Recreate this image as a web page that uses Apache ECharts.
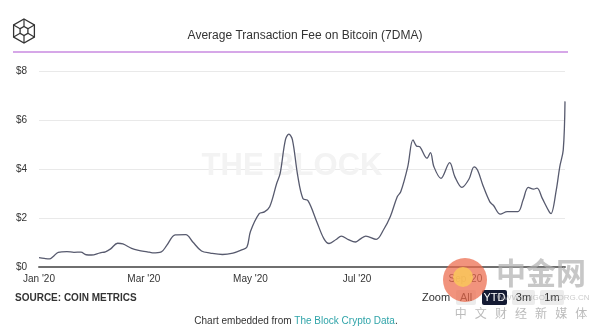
<!DOCTYPE html>
<html><head><meta charset="utf-8">
<script src="https://cdn.jsdelivr.net/npm/echarts@6/dist/echarts.min.js"></script>
<style>html,body{margin:0;padding:0;background:#fff}#c{width:600px;height:330px}</style>
</head><body><div id="c"></div>
<script>
const dates = ['2020-01-01','2020-01-04','2020-01-07','2020-01-09','2020-01-12','2020-01-17','2020-01-21','2020-01-25','2020-01-28','2020-01-31',
'2020-02-05','2020-02-08','2020-02-11','2020-02-15','2020-02-18','2020-02-23','2020-02-27','2020-03-03','2020-03-06','2020-03-11',
'2020-03-14','2020-03-19','2020-03-25','2020-03-29','2020-04-03','2020-04-08','2020-04-15','2020-04-21','2020-04-26','2020-04-29',
'2020-05-01','2020-05-06','2020-05-09','2020-05-12','2020-05-16','2020-05-18','2020-05-21','2020-05-23','2020-05-25','2020-05-28',
'2020-05-31','2020-06-03','2020-06-08','2020-06-12','2020-06-15','2020-06-19','2020-06-22','2020-06-26','2020-06-30','2020-07-03',
'2020-07-06','2020-07-12','2020-07-16','2020-07-20','2020-07-24','2020-07-26','2020-07-30','2020-08-02','2020-08-04','2020-08-06',
'2020-08-10','2020-08-12','2020-08-14','2020-08-18','2020-08-23','2020-08-26','2020-08-30','2020-09-03','2020-09-06','2020-09-08',
'2020-09-11','2020-09-15','2020-09-17','2020-09-21','2020-09-25','2020-10-01','2020-10-04','2020-10-07','2020-10-10','2020-10-12',
'2020-10-15','2020-10-19','2020-10-20','2020-10-23','2020-10-25','2020-10-27','2020-10-28'];
const fees = [0.38,0.35,0.33,0.42,0.60,0.63,0.60,0.61,0.50,0.49,
0.58,0.62,0.74,0.97,0.94,0.76,0.68,0.62,0.58,0.62,
0.87,1.31,1.32,1.02,0.65,0.57,0.51,0.57,0.70,0.82,
1.45,2.18,2.25,2.46,3.41,3.82,5.19,5.42,5.20,3.75,
2.80,2.70,1.84,1.16,0.96,1.12,1.26,1.12,1.02,1.15,
1.26,1.13,1.50,2.05,2.87,3.07,4.09,5.19,4.94,4.90,
4.44,4.67,4.09,3.62,4.26,3.68,3.25,3.58,4.09,3.95,
3.34,2.66,2.52,2.16,2.26,2.26,2.73,3.25,3.18,3.22,
2.80,2.25,2.18,3.14,4.09,4.78,6.76];
const xTicks = ['2020-01-01','2020-03-01','2020-05-01','2020-07-01','2020-09-01'];
const xTickLabels = ["Jan '20","Mar '20","May '20","Jul '20","Sep '20"];
const yTicks = [0,2,4,6,8];

const ts = s => new Date(s + 'T00:00:00Z').getTime();
const tickTs = xTicks.map(ts);
const chart = echarts.init(document.getElementById('c'), null, {renderer:'canvas'});

const cx = 24, cy = 31, R = 12, r = 4.5;
const hex = (rad) => [0,1,2,3,4,5].map(i => { const a = Math.PI/180*(60*i-90); return [cx+rad*Math.cos(a), cy+rad*Math.sin(a)]; });
const outer = hex(R), inner = hex(r);
const logo = [{type:'polygon', shape:{points:outer}, style:{fill:'none', stroke:'#333', lineWidth:1.3}},
  {type:'polygon', shape:{points:inner}, style:{fill:'none', stroke:'#333', lineWidth:1.3}}];
[0,1,2,3,4,5].forEach(i => logo.push({type:'line', shape:{x1:outer[i][0],y1:outer[i][1],x2:inner[i][0],y2:inner[i][1]}, style:{stroke:'#333', lineWidth:1.2}}));

const btn = (x, w, label, active) => [
  {type:'rect', shape:{x:x, y:290, width:w, height:15, r:2}, style:{fill: active ? '#141a33' : '#ececec'}},
  {type:'text', x:x+w/2, y:297.5, style:{text:label, fill: active ? '#fff' : '#333', font:'11px "Liberation Sans", Arial, sans-serif', align:'center', verticalAlign:'middle'}}
];

chart.setOption({
  animation:false,
  grid:{left:39, right:35, top:71, bottom:63},
  title:{text:'Average Transaction Fee on Bitcoin (7DMA)', left:300, textAlign:'center', top:25,
    textStyle:{fontSize:12, fontWeight:'normal', color:'#333', fontFamily:'"Liberation Sans", Arial, sans-serif'}},
  xAxis:{type:'value', min:ts(dates[0]), max:ts(dates[dates.length-1]),
    axisLine:{lineStyle:{color:'#6f6f6f', width:2}},
    axisTick:{show:false},
    splitLine:{show:false},
    axisLabel:{customValues:tickTs, color:'#333', fontSize:10, margin:7, fontFamily:'"Liberation Sans", Arial, sans-serif',
      formatter:(v)=>{ const i = tickTs.indexOf(v); return i>=0 ? xTickLabels[i] : ''; }}},
  yAxis:{type:'value', min:yTicks[0], max:yTicks[yTicks.length-1], interval:2,
    axisLine:{show:false}, axisTick:{show:false},
    splitLine:{lineStyle:{color:'#e9e9e9', width:1}},
    axisLabel:{color:'#333', fontSize:10, margin:12, fontFamily:'"Liberation Sans", Arial, sans-serif', formatter:v=>'$'+v}},
  series:[{type:'line', data:dates.map((d,i)=>[ts(d), fees[i]]), showSymbol:false, smooth:0.35,
    lineStyle:{color:'#575a6e', width:1.3}, z:5}],
  graphic:[
    ...logo,
    {type:'line', shape:{x1:13, y1:52, x2:568, y2:52}, style:{stroke:'#c98ae0', lineWidth:1.5}},
    {type:'text', x:292, y:166, z:1, style:{text:'THE BLOCK', fill:'#f3f3f3', font:'bold 31px "Liberation Sans", Arial, sans-serif', align:'center', verticalAlign:'middle'}},
    {type:'text', x:15, y:298, style:{text:'SOURCE: COIN METRICS', fill:'#333', font:'bold 10px "Liberation Sans", Arial, sans-serif', verticalAlign:'middle'}},
    {type:'text', x:422, y:297.5, style:{text:'Zoom', fill:'#333', font:'11px "Liberation Sans", Arial, sans-serif', verticalAlign:'middle'}},
    ...btn(456, 20, 'All', false),
    ...btn(482, 25, 'YTD', true),
    ...btn(512, 23, '3m', false),
    ...btn(540, 24, '1m', false),
    {type:'text', x:296, y:321, style:{rich:{a:{fill:'#333', font:'10px "Liberation Sans", Arial, sans-serif'}, b:{fill:'#2fa4a9', font:'10px "Liberation Sans", Arial, sans-serif'}},
      text:'{a|Chart embedded from }{b|The Block Crypto Data}{a|.}', align:'center', verticalAlign:'middle'}},
    {type:'circle', shape:{cx:465, cy:280, r:22}, style:{fill:'rgba(235,105,75,0.72)'}, z:20},
    {type:'circle', shape:{cx:463, cy:277, r:10}, style:{fill:'rgba(250,200,90,0.85)'}, z:21},
    {type:'text', x:541, y:273, z:20, style:{text:'中金网', fill:'rgba(175,175,175,0.7)', font:'bold 30px "Noto Sans CJK SC", sans-serif', align:'center', verticalAlign:'middle'}},
    {type:'text', x:543, y:298, z:20, style:{text:'WWW.CNGOLD.ORG.CN', fill:'rgba(170,170,170,0.6)', font:'8px "Liberation Sans", Arial, sans-serif', align:'center', verticalAlign:'middle'}},
    {type:'text', x:521, y:313, z:20, style:{text:'中   文   财   经   新   媒   体', fill:'rgba(170,170,170,0.8)', font:'12px "Noto Sans CJK SC", sans-serif', align:'center', verticalAlign:'middle'}}
  ]
});
</script></body></html>
